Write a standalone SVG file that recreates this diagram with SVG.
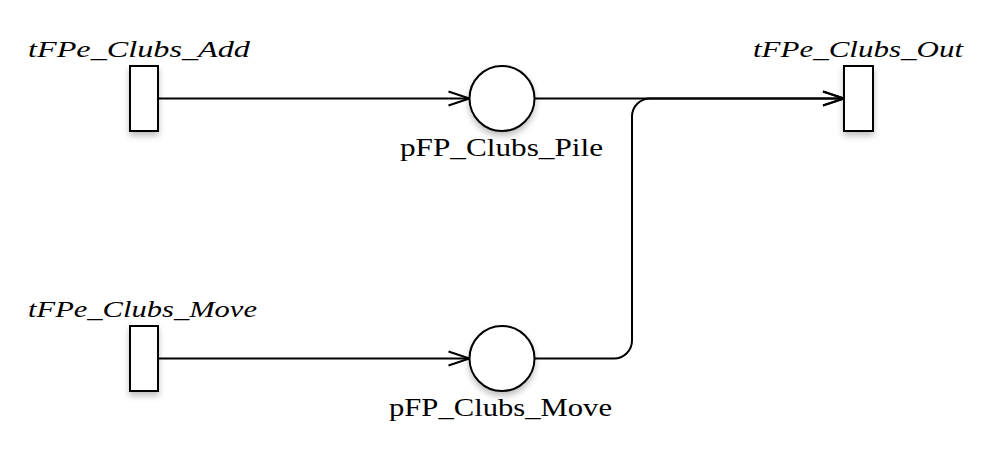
<svg xmlns="http://www.w3.org/2000/svg" width="983" height="453" viewBox="0 0 983 453">
<style>
  .node { fill: #fff; stroke: #000; stroke-width: 2; filter: url(#sh); }
  .tl { font-family: "Liberation Serif", "DejaVu Serif", serif; font-style: italic; font-size: 23px; fill: #000; }
  .pl { font-family: "Liberation Serif", "DejaVu Serif", serif; font-size: 25px; fill: #000; }
  .arc { fill: none; stroke: #000; stroke-width: 2; marker-end: url(#arr); }
</style>
<defs>
  <filter id="sh" x="-50%" y="-50%" width="200%" height="200%">
    <feGaussianBlur in="SourceAlpha" stdDeviation="3"/>
    <feOffset dx="0" dy="4" result="b"/>
    <feComponentTransfer><feFuncA type="linear" slope="0.25"/></feComponentTransfer>
    <feMerge><feMergeNode/><feMergeNode in="SourceGraphic"/></feMerge>
  </filter>
  <marker id="arr" markerUnits="userSpaceOnUse" markerWidth="26" markerHeight="20" refX="22" refY="8" orient="auto" overflow="visible">
    <path d="M1,1 L22,8 L1,15" fill="none" stroke="#000" stroke-width="2"/>
  </marker>
</defs>
<rect width="983" height="453" fill="#fff"/>
<g id="connectors">
  <path class="arc" d="M158,98.5 H469.5"/>
  <path class="arc" d="M158,358.5 H469.5"/>
  <path class="arc" d="M534.5,98.5 H844"/>
  <path class="arc" d="M534.5,358.5 H614 A18,18 0 0 0 632,340.5 V116.5 A18,18 0 0 1 650,98.5 H844"/>
</g>
<g id="tFPe_Clubs_Add">
  <rect class="node" x="130" y="66" width="28" height="65"/>
  <text class="tl" x="139" y="57" text-anchor="middle" textLength="222" lengthAdjust="spacingAndGlyphs">tFPe_Clubs_Add</text>
</g>
<g id="tFPe_Clubs_Move">
  <rect class="node" x="130" y="326" width="28" height="65"/>
  <text class="tl" x="142.5" y="317" text-anchor="middle" textLength="229" lengthAdjust="spacingAndGlyphs">tFPe_Clubs_Move</text>
</g>
<g id="tFPe_Clubs_Out">
  <rect class="node" x="844" y="66" width="29" height="65"/>
  <text class="tl" x="858" y="57" text-anchor="middle" textLength="210" lengthAdjust="spacingAndGlyphs">tFPe_Clubs_Out</text>
</g>
<g id="pFP_Clubs_Pile">
  <circle class="node" cx="502" cy="98.5" r="32.5"/>
  <text class="pl" x="501.5" y="156" text-anchor="middle" textLength="203" lengthAdjust="spacingAndGlyphs">pFP_Clubs_Pile</text>
</g>
<g id="pFP_Clubs_Move">
  <circle class="node" cx="502" cy="358.5" r="32.5"/>
  <text class="pl" x="500.5" y="416" text-anchor="middle" textLength="223" lengthAdjust="spacingAndGlyphs">pFP_Clubs_Move</text>
</g>
</svg>
